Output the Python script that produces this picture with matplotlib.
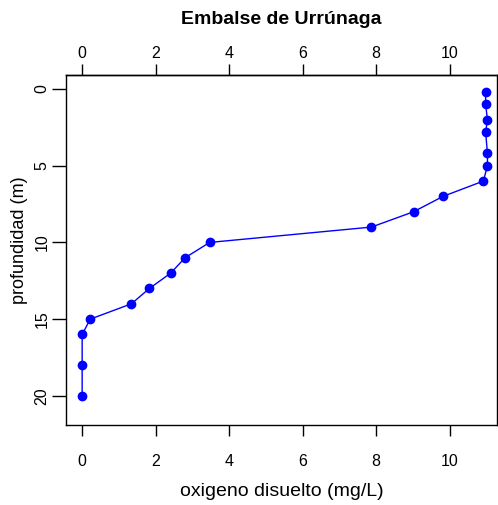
import matplotlib
matplotlib.use("Agg")
import matplotlib.pyplot as plt

plt.rcParams['font.family'] = ['Liberation Sans', 'DejaVu Sans']

# oxygen profile, Urrunaga reservoir
oxigeno = [10.98, 10.98, 11.03, 10.98, 11.03, 11.03, 10.92, 9.82, 9.02, 7.87,
           3.47, 2.80, 2.41, 1.83, 1.34, 0.22, 0.0, 0.0, 0.0]
profundidad = [0.2, 1, 2, 2.8, 4.2, 5, 6, 7, 8, 9,
               10, 11, 12, 13, 14, 15, 16, 18, 20]
xticks = [0, 2, 4, 6, 8, 10]
yticks = [0, 5, 10, 15, 20]

fig = plt.figure(figsize=(4.98, 5.05), dpi=100)
ax = fig.add_axes([0.1325, 0.1584, 0.8655, 0.693])

ax.plot(oxigeno, profundidad, color='#0000ff', lw=1.0, marker='o', ms=6)

ax.set_xlim(-0.44, 11.29)
ax.set_ylim(21.9, -0.91)
ax.set_xticks(xticks)
ax.set_yticks(yticks)

ax.tick_params(axis='x', direction='out', length=8, width=1,
               labelsize=11.5, pad=13)
ax.tick_params(axis='y', direction='out', length=10, width=1,
               labelsize=11.5, pad=2)
plt.setp(ax.get_yticklabels(), rotation=90, va='center')

# top axis, labels closer to the ticks
top = ax.secondary_xaxis('top')
top.set_xticks(xticks)
top.tick_params(direction='out', length=8, width=1, labelsize=11.5, pad=2)
top.spines['top'].set_linewidth(1)

for s in ax.spines.values():
    s.set_linewidth(1)

ax.set_xlabel('oxigeno disuelto (mg/L)', fontsize=14, labelpad=10)
fig.text(20 / 498, 1 - 240 / 505, 'profundidad (m)', rotation=90,
         ha='center', va='center', fontsize=13)
fig.text(0.565, 0.961, 'Embalse de Urrúnaga', ha='center', va='center',
         fontsize=14, fontweight='bold')

fig.savefig('out.png', dpi=100)
